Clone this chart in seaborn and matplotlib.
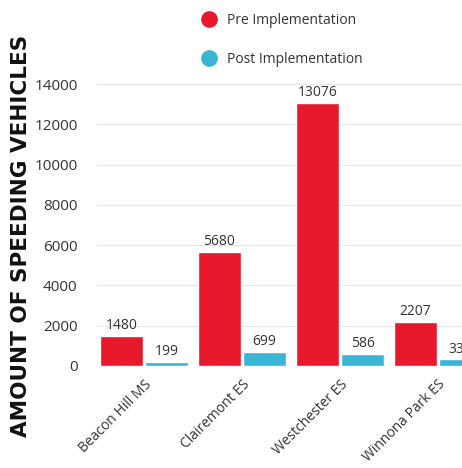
import numpy as np
import pandas as pd
import seaborn as sns
import matplotlib.pyplot as plt
from matplotlib.lines import Line2D

schools = ["Beacon Hill MS", "Clairemont ES", "Westchester ES", "Winnona Park ES"]
pre_values = [1480, 5680, 13076, 2207]
post_values = [199, 699, 586, 331]
series = ["Pre Implementation", "Post Implementation"]
colors = ["#E8192C", "#3BB5D5"]

df = pd.DataFrame({
    "school": schools * 2,
    "period": [series[0]] * len(schools) + [series[1]] * len(schools),
    "count": pre_values + post_values,
})

sns.set_theme(style="white")
plt.rcParams['font.family'] = ['Open Sans', 'DejaVu Sans']

fig = plt.figure(figsize=(4.62, 4.68), dpi=100)
ax = fig.add_axes([0.21, 0.218, 0.79, 0.6025])

sns.barplot(data=df, x="school", y="count", hue="period", palette=colors,
            width=0.92, gap=0.06, ax=ax, legend=False, saturation=1)

for cont in ax.containers:
    ax.bar_label(cont, padding=2, fontsize=10, color="#333333")

ax.set_ylim(0, 14000)
ax.set_xlim(-0.48, 3.245)
ax.set_yticks(np.arange(0, 14001, 2000))
ax.yaxis.grid(True, color="#e6e6e6", linewidth=0.8)
ax.set_axisbelow(True)
for s in ax.spines.values():
    s.set_visible(False)
ax.tick_params(axis="y", labelsize=11, pad=8, colors="#333333")
ax.tick_params(axis="x", labelsize=10, colors="#333333", pad=2)
plt.setp(ax.get_xticklabels(), rotation=45, ha="right", rotation_mode="anchor")
ax.set_xlabel("")
ax.set_ylabel("AMOUNT OF SPEEDING VEHICLES", fontsize=15.5, fontweight="bold",
              color="#111111", family="DejaVu Sans")
ax.yaxis.set_label_coords(-0.18, 0.46)

handles = [Line2D([], [], marker="o", linestyle="", markersize=11, color=c) for c in colors]
fig.legend(handles, series, loc="upper left", bbox_to_anchor=(0.395, 1.0),
           frameon=False, fontsize=10, labelspacing=1.75, handletextpad=0.3,
           labelcolor="#333333")

fig.savefig("out.png", dpi=100)
